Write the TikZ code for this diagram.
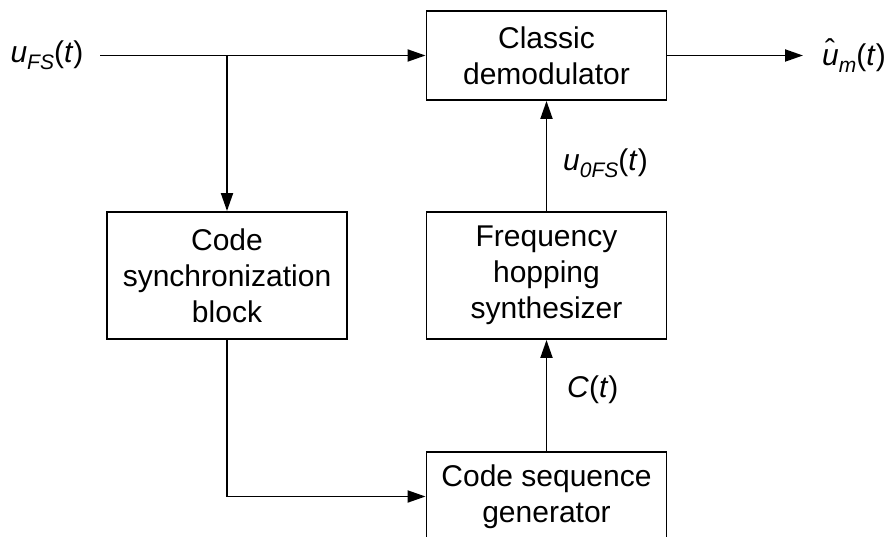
\documentclass[tikz,border=0pt]{standalone}
\usepackage{fontspec}
\setmainfont{Liberation Sans}
\usetikzlibrary{arrows.meta}
\newcommand{\mysub}[1]{\raisebox{-0.22em}{\fontsize{21}{21}\selectfont\textit{#1}}}
\newcommand{\myhatu}{\makebox[0pt][l]{\hspace{0.1em}\raisebox{0.16em}{ˆ}}\textit{u}}
\begin{document}
\begin{tikzpicture}[x=1pt,y=-1pt,
  blk/.style={draw,line width=1.9pt,minimum width=240pt,align=center,inner sep=0pt,
    font=\fontsize{30}{36}\selectfont},
  lbl/.style={inner sep=0pt,font=\fontsize{30}{36}\selectfont},
  conn/.style={line width=1.9pt,-{Triangle[length=18pt,width=12pt]}}]
\clip (0,0) rectangle (889,537);
\fill[white] (0,0) rectangle (889,537);
\node[blk,minimum height=89pt] (classic) at (546.5,55.5) {Classic\\demodulator};
\node[blk,minimum height=127pt] (sync) at (227,275.5) {Code\\synchronization\\block};
\node[blk,minimum height=127pt] (freq) at (546.5,275.5) {Frequency\\hopping\\synthesizer};
\node[blk,minimum height=89pt] (seq) at (546.5,496.5) {Code sequence\\generator};
\coordinate (in) at (100,55.5);
\coordinate (br) at (227,55.5);
\coordinate (out) at (803,55.5);
\node[lbl] (uin) at (47,55.5) {\textit{u}\mysub{FS}(\textit{t})};
\node[lbl] (uhat) at (854,55.5) {\myhatu\mysub{m}(\textit{t})};
\node[lbl,anchor=west] (u0) at (563,163) {\textit{u}\mysub{0FS}(\textit{t})};
\node[lbl,anchor=west] (ct) at (567,390) {\textit{C}(\textit{t})};
\draw[conn] (in) -- (classic.west);
\draw[conn] (br) -- (sync.north);
\draw[conn] (sync.south) |- (seq.west);
\draw[conn] (seq.north) -- (freq.south);
\draw[conn] (freq.north) -- (classic.south);
\draw[conn] (classic.east) -- (out);
\end{tikzpicture}
\end{document}
